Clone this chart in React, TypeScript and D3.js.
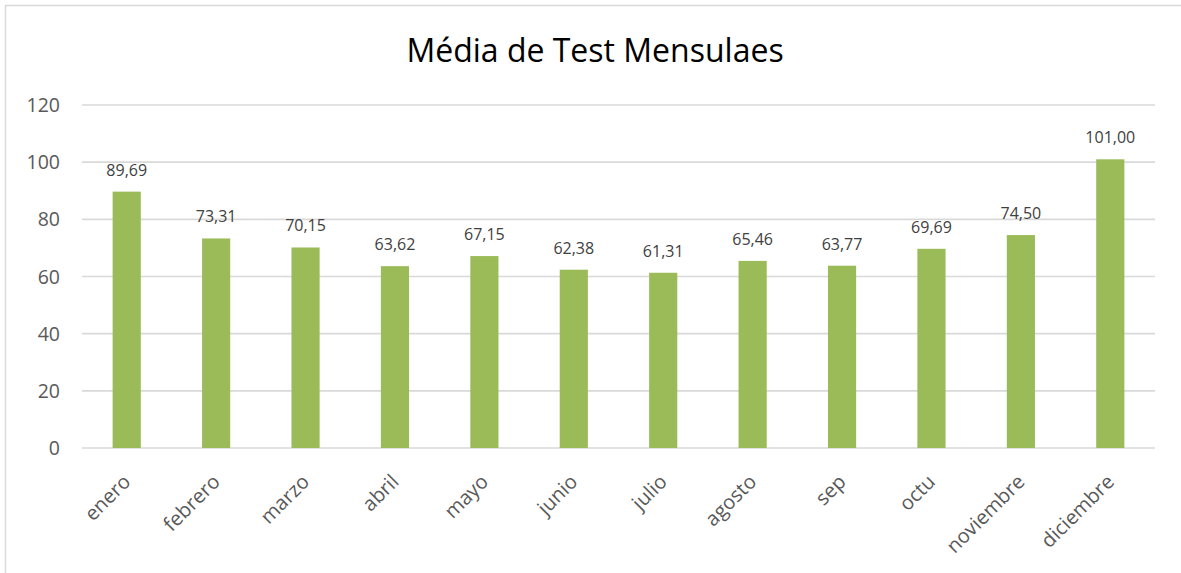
import React from 'react';
import * as d3 from 'd3';

const months = ['enero', 'febrero', 'marzo', 'abril', 'mayo', 'junio', 'julio', 'agosto', 'sep', 'octu', 'noviembre', 'diciembre'];
const averages = [89.69, 73.31, 70.15, 63.62, 67.15, 62.38, 61.31, 65.46, 63.77, 69.69, 74.5, 101.0];
const yTicks = [0, 20, 40, 60, 80, 100, 120];

const W = 1181;
const H = 573;
const FONT = '"Open Sans", "Noto Sans", sans-serif';

const App = () => {
  const x = d3.scaleBand<string>().domain(months).range([82, 1155]);
  const y = d3.scaleLinear().domain([0, 120]).range([448, 105]);
  const barW = x.bandwidth() * 0.315;
  const fmt = (v: number) => v.toFixed(2).replace('.', ',');

  return (
    <div style={{ position: 'fixed', left: 0, top: 0 }}>
      <svg width={W} height={H} style={{ display: 'block', background: '#fff' }}>
        {/* chart frame, runs off the right and bottom */}
        <rect x={5.5} y={5.5} width={W + 20} height={H + 20} fill="#fff" stroke="#d9d9d9" strokeWidth={1.5} />

        <text x={595} y={62} textAnchor="middle" fontFamily={FONT} fontSize={32} fill="#000">
          Média de Test Mensulaes
        </text>

        {/* grid + y labels */}
        {yTicks.map(t => (
          <g key={t}>
            <line x1={82} x2={1155} y1={y(t)} y2={y(t)} stroke="#d9d9d9" strokeWidth={1.6} />
            <text x={60} y={y(t)} dy="0.36em" textAnchor="end" fontFamily={FONT} fontSize={19.5} fill="#595959">
              {t}
            </text>
          </g>
        ))}

        {/* bars */}
        {months.map((m, i) => {
          const cx = x(m)! + x.bandwidth() / 2;
          return (
            <g key={m}>
              <rect x={cx - barW / 2} y={y(averages[i])} width={barW} height={y(0) - y(averages[i])} fill="#9bbb59" />
              <text x={cx} y={y(averages[i]) - 16} textAnchor="middle" fontFamily={FONT} fontSize={16} fill="#404040">
                {fmt(averages[i])}
              </text>
              <text
                transform={`translate(${cx - 5},${y(0) + 25}) rotate(-45)`}
                dy="0.71em"
                textAnchor="end"
                fontFamily={FONT}
                fontSize={20}
                fill="#595959"
              >
                {m}
              </text>
            </g>
          );
        })}
      </svg>
    </div>
  );
};

export default App;
